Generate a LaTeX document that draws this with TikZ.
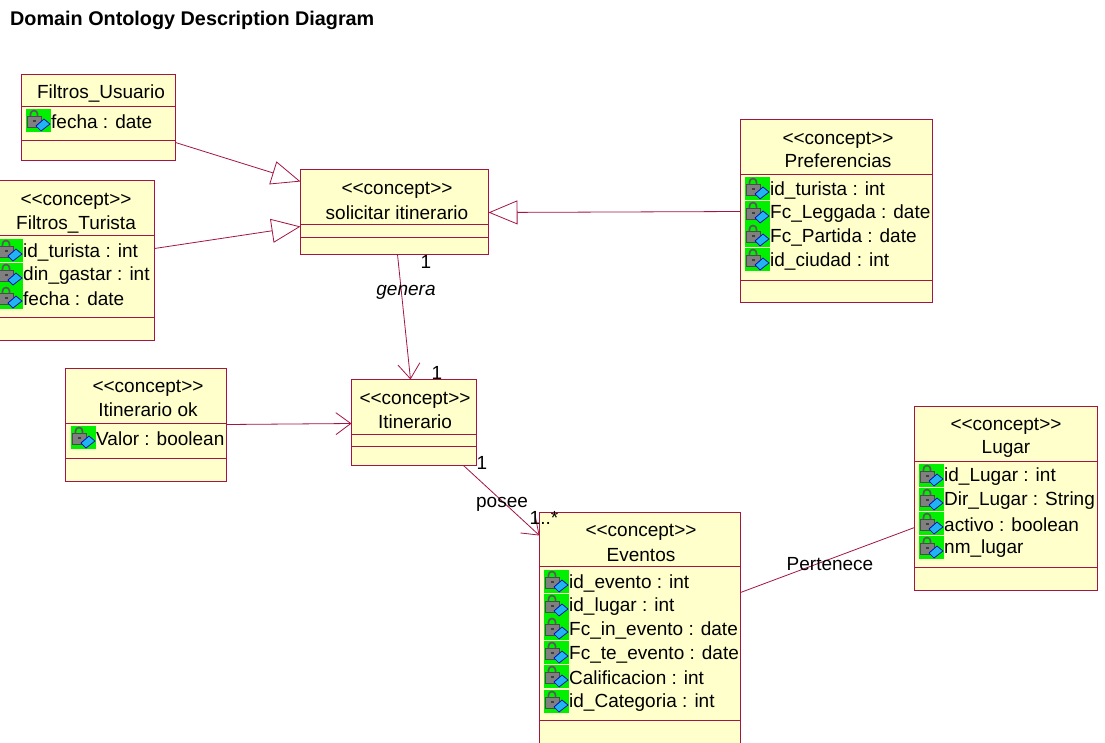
\documentclass[tikz,border=0pt]{standalone}
\usepackage{fontspec}
\setmainfont{Liberation Sans}[Ligatures=NoCommon]
\usetikzlibrary{arrows.meta,calc}
\definecolor{umlline}{HTML}{A31545}
\definecolor{umlfill}{HTML}{FFFFCC}
\definecolor{icongreen}{HTML}{00F000}
\definecolor{icongray}{HTML}{808080}
\definecolor{iconblue}{HTML}{22B4F0}
\newcommand{\stereo}{<{}<concept>{}>}
\tikzset{
  cbox/.style={draw=umlline,fill=umlfill,line width=1pt,inner sep=0pt,outer sep=0pt},
  divider/.style={draw=umlline,line width=.8pt},
  ctext/.style={inner sep=0pt,yshift=-2pt,font=\fontsize{19}{22}\selectfont,text=black},
  atext/.style={ctext,anchor=west},
  rel/.style={draw=umlline,line width=.8pt},
  gen/.style={rel,-{Triangle[open,length=29pt,width=24pt,fill=none]}},
  assoc/.style={rel,-{Straight Barb[length=15pt,width=22pt,line width=.8pt]}},
  lab/.style={ctext}
}
\newcommand{\umlcls}[7]{%
  \node[cbox,minimum width=#4 pt - #2 pt,minimum height=#5 pt - #3 pt,anchor=north west] (#1) at (#2-.5,#3-.5) {};
  \draw[divider] (#2-.5,#6-.5) -- (#4-.5,#6-.5);
  \draw[divider] (#2-.5,#7-.5) -- (#4-.5,#7-.5);
}
\newcommand{\attr}[4]{%
  \begin{scope}[shift={(#2,#3)}]
    \fill[icongreen] (0,-11.5) rectangle (24.5,11.5);
    \draw[black!65,line width=1.7pt] (4.5,-3.5) -- (4.5,-6) arc[start angle=180,end angle=360,radius=3.5] -- (11.5,-3.5);
    \fill[icongray,draw=black!70,line width=.6pt] (1.5,-3.5) rectangle (15,7);
    \fill[black!75] (6.5,0) rectangle (10,2);
    \fill[iconblue,draw=blue!75!black,line width=.7pt] (18,-1) -- (24,4) -- (15,11) -- (10,6) -- cycle;
  \end{scope}
  \node[atext] (#1) at (#2+25,#3) {#4};
}
\begin{document}
\begin{tikzpicture}[x=1pt,y=-1pt]
\clip (0,0) rectangle (1105,742);
\useasboundingbox (0,0) rectangle (1105,742);
\fill[white] (0,0) rectangle (1105,742);

\node[anchor=west,inner sep=0pt,yshift=-2pt,font=\fontsize{19.8}{22}\selectfont\bfseries,text=black] (title) at (10,18) {Domain Ontology Description Diagram};

% classes
\umlcls{fu}{22}{75}{176}{161}{107}{141}
\node[ctext] (fun) at (101,92) {Filtros\_Usuario};
\attr{fua}{26}{120}{fecha : date}

\umlcls{ft}{-10}{181}{155}{341}{236}{318}
\node[ctext] (fts) at (76,199) {\stereo};
\node[ctext] (ftn) at (76,222) {Filtros\_Turista};
\attr{fta}{-2}{250}{id\_turista : int}
\attr{ftb}{-2}{274}{din\_gastar : int}
\attr{ftc}{-2}{297}{fecha : date}

\umlcls{si}{301}{170}{489}{255}{225}{238}
\node[ctext] (sis) at (397,188) {\stereo};
\node[ctext] (sin) at (397,211) {solicitar itinerario};

\umlcls{pr}{741}{120}{933}{303}{175}{281}
\node[ctext] (prs) at (838,138) {\stereo};
\node[ctext] (prn) at (838,159) {Preferencias};
\attr{pra}{745}{188}{id\_turista : int}
\attr{prb}{745}{212}{Fc\_Leggada : date}
\attr{prc}{745}{235}{Fc\_Partida : date}
\attr{prd}{745}{259}{id\_ciudad : int}

\umlcls{ok}{66}{369}{227}{482}{424}{459}
\node[ctext] (oks) at (148,386) {\stereo};
\node[ctext] (okn) at (148,408) {Itinerario ok};
\attr{oka}{71}{437}{Valor : boolean}

\umlcls{it}{352}{380}{477}{466}{435}{447}
\node[ctext] (its) at (415,398) {\stereo};
\node[ctext] (itn) at (415,420) {Itinerario};

\umlcls{ev}{540}{513}{741}{760}{567}{721}
\node[ctext] (evs) at (641,530) {\stereo};
\node[ctext] (evn) at (641,553) {Eventos};
\attr{eva}{544}{581}{id\_evento : int}
\attr{evb}{544}{605}{id\_lugar : int}
\attr{evc}{544}{628}{Fc\_in\_evento : date}
\attr{evd}{544}{652}{Fc\_te\_evento : date}
\attr{eve}{544}{676}{Calificacion : int}
\attr{evf}{544}{701}{id\_Categoria : int}

\umlcls{lu}{915}{407}{1098}{591}{462}{568}
\node[ctext] (lus) at (1006,424) {\stereo};
\node[ctext] (lun) at (1006,447) {Lugar};
\attr{lua}{919}{475}{id\_Lugar : int}
\attr{lub}{919}{499}{Dir\_Lugar : String}
\attr{luc}{919}{523}{activo : boolean}
\attr{lud}{919}{547}{nm\_lugar}

% connectors
\draw[gen] ($(fu.north east)+(0,68)$) -- ($(si.north west)+(0,12)$);
\draw[gen] ($(ft.north east)+(0,68)$) -- ($(si.north west)+(0,57)$);
\draw[gen] ($(pr.north west)+(0,92)$) -- ($(si.north east)+(0,43)$);
\draw[assoc] ($(si.south west)+(97,0)$) -- ($(it.north west)+(59,0)$);
\draw[assoc] ($(ok.north east)+(0,56)$) -- ($(it.north west)+(0,44)$);
\draw[assoc] ($(it.south east)+(-13,0)$) -- ($(ev.north west)+(0,23)$);
\draw[rel] ($(ev.north east)+(0,80)$) -- ($(lu.north west)+(0,121)$);

% labels
\node[lab] (m1) at (426,260) {1};
\node[lab,font=\fontsize{19}{22}\selectfont\itshape] (genera) at (406,290) {genera};
\node[lab] (m2) at (437,371) {1};
\node[lab] (m3) at (482,461) {1};
\node[lab] (posee) at (502,502) {posee};
\node[lab] (m4) at (544,516) {1..*};
\node[lab] (pert) at (830,562) {Pertenece};
\end{tikzpicture}
\end{document}
